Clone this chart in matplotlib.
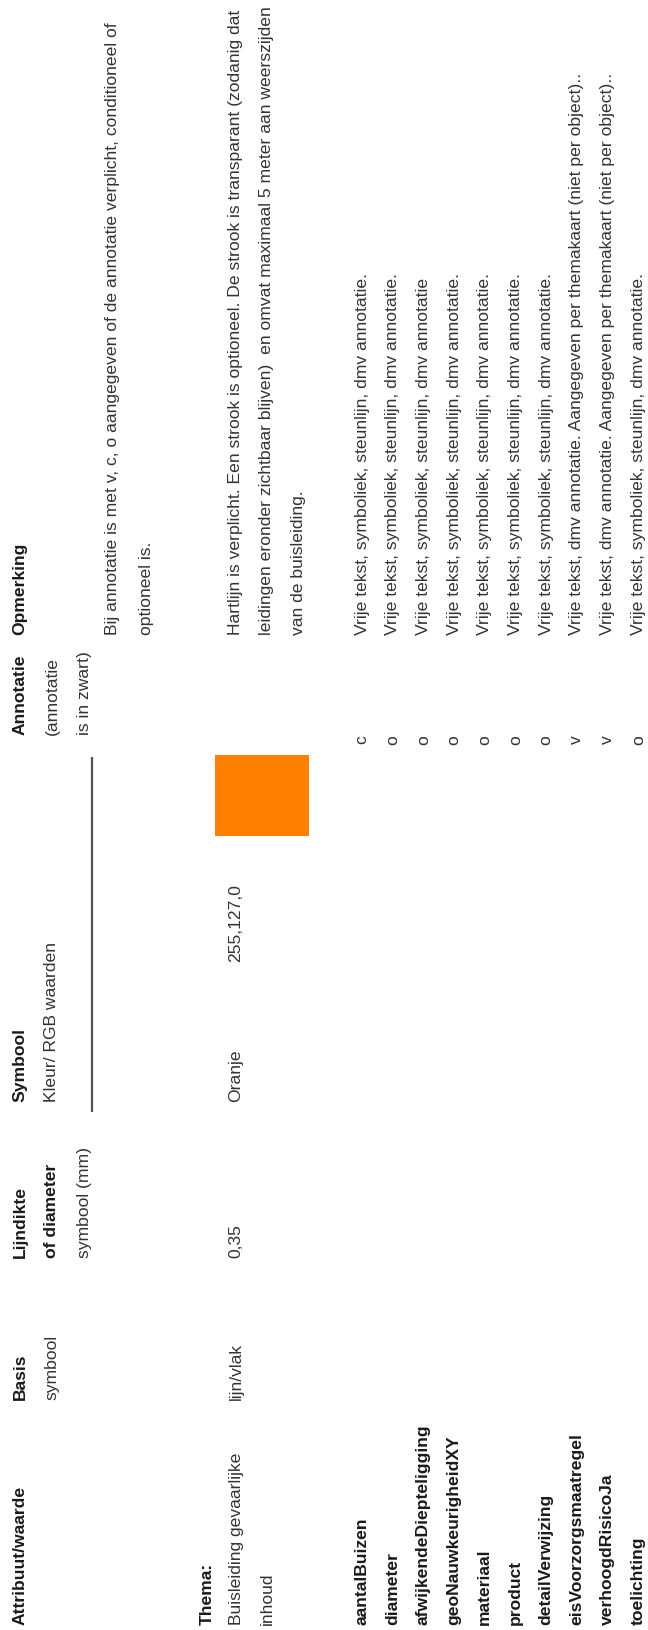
import matplotlib
matplotlib.use("Agg")
import matplotlib.pyplot as plt
from matplotlib.patches import Rectangle

plt.rcParams['font.family'] = ['Liberation Sans', 'DejaVu Sans']

# Table content
header_lines = [
    ["Attribuut/waarde"],
    ["Basis", "symbool"],
    ["Lijndikte", "of diameter", "symbool (mm)"],
    ["Symbool", "Kleur/ RGB waarden"],
    ["Annotatie", "(annotatie", "is in zwart)"],
    ["Opmerking"],
]
header_bold = [
    [True],
    [True, False],
    [True, True, False],
    [True, False],
    [True, False, False],
    [True],
]
general_remark = [
    "Bij annotatie is met v, c, o aangegeven of de annotatie verplicht, conditioneel of",
    "optioneel is.",
]

thema_label = "Thema:"
thema_name = ["Buisleiding gevaarlijke", "inhoud"]
thema_basis = "lijn/vlak"
thema_lijndikte = "0,35"
thema_kleur = "Oranje"
thema_rgb = (255, 127, 0)
thema_remark = [
    "Hartlijn is verplicht. Een strook is optioneel. De strook is transparant (zodanig dat",
    "leidingen eronder zichtbaar blijven)  en omvat maximaal 5 meter aan weerszijden",
    "van de buisleiding.",
]

attributes = [
    "aantalBuizen", "diameter", "afwijkendeDiepteligging", "geoNauwkeurigheidXY",
    "materiaal", "product", "detailVerwijzing", "eisVoorzorgsmaatregel",
    "verhoogdRisicoJa", "toelichting",
]
annotation_codes = ["c", "o", "o", "o", "o", "o", "o", "v", "v", "o"]
attribute_remarks = [
    "Vrije tekst, symboliek, steunlijn, dmv annotatie.",
    "Vrije tekst, symboliek, steunlijn, dmv annotatie.",
    "Vrije tekst, symboliek, steunlijn, dmv annotatie",
    "Vrije tekst, symboliek, steunlijn, dmv annotatie.",
    "Vrije tekst, symboliek, steunlijn, dmv annotatie.",
    "Vrije tekst, symboliek, steunlijn, dmv annotatie.",
    "Vrije tekst, symboliek, steunlijn, dmv annotatie.",
    "Vrije tekst, dmv annotatie. Aangegeven per themakaart (niet per object)..",
    "Vrije tekst, dmv annotatie. Aangegeven per themakaart (niet per object)..",
    "Vrije tekst, symboliek, steunlijn, dmv annotatie.",
]

# Layout (pixel units, page is rotated: columns run bottom -> top)
W, H = 648, 1631
col_start = [1625, 1400, 1258, 1102, 735, 635]
rgb_start = 962
annot_center = 740
line_pitch = 32
header_x0 = 20
remark_x0 = 113
thema_x0 = 207
data_x0 = 236
data_pitch = 31
attr_x0 = 362
attr_pitch = 30.7
fs = 12.6
ink = '#1a1a1a'
ink_light = '#333333'

fig = plt.figure(figsize=(W / 100, H / 100), dpi=100)
ax = fig.add_axes([0, 0, 1, 1])
ax.set_xlim(0, W)
ax.set_ylim(H, 0)
ax.axis('off')


def put(x, y, s, bold=False, va='bottom', color=None):
    ax.text(x, y, s, rotation=90, ha='center', va=va, fontsize=fs,
            fontweight='bold' if bold else 'normal',
            color=color or (ink if bold else ink_light))


# header
for c, lines in enumerate(header_lines):
    for i, s in enumerate(lines):
        put(header_x0 + i * line_pitch, col_start[c], s, bold=header_bold[c][i])

# underline under symbol header
ax.plot([header_x0 + 2.25 * line_pitch] * 2, [col_start[4] + 23, col_start[3] + 11],
        color='#555555', lw=1.6, solid_capstyle='butt')

for i, s in enumerate(general_remark):
    put(remark_x0 + i * 33, col_start[5], s)

# thema row
put(thema_x0, col_start[0], thema_label, bold=True)
for i, s in enumerate(thema_name):
    put(data_x0 + i * data_pitch, col_start[0], s)
put(data_x0, col_start[1], thema_basis)
put(data_x0, col_start[2], thema_lijndikte)
put(data_x0, col_start[3], thema_kleur)
put(data_x0, rgb_start, ",".join(str(v) for v in thema_rgb))
for i, s in enumerate(thema_remark):
    put(data_x0 + i * data_pitch, col_start[5], s)

sym_color = tuple(v / 255 for v in thema_rgb)
ax.add_patch(Rectangle((data_x0 - 21, col_start[4] + 21), 94, 81,
                       facecolor=sym_color, edgecolor='none'))

# attribute rows
for i, (name, code, rem) in enumerate(zip(attributes, annotation_codes, attribute_remarks)):
    x = attr_x0 + i * attr_pitch
    put(x, col_start[0], name, bold=True)
    put(x, annot_center, code, va='center')
    put(x, col_start[5], rem)

fig.savefig("out.png", dpi=100, facecolor='white')
